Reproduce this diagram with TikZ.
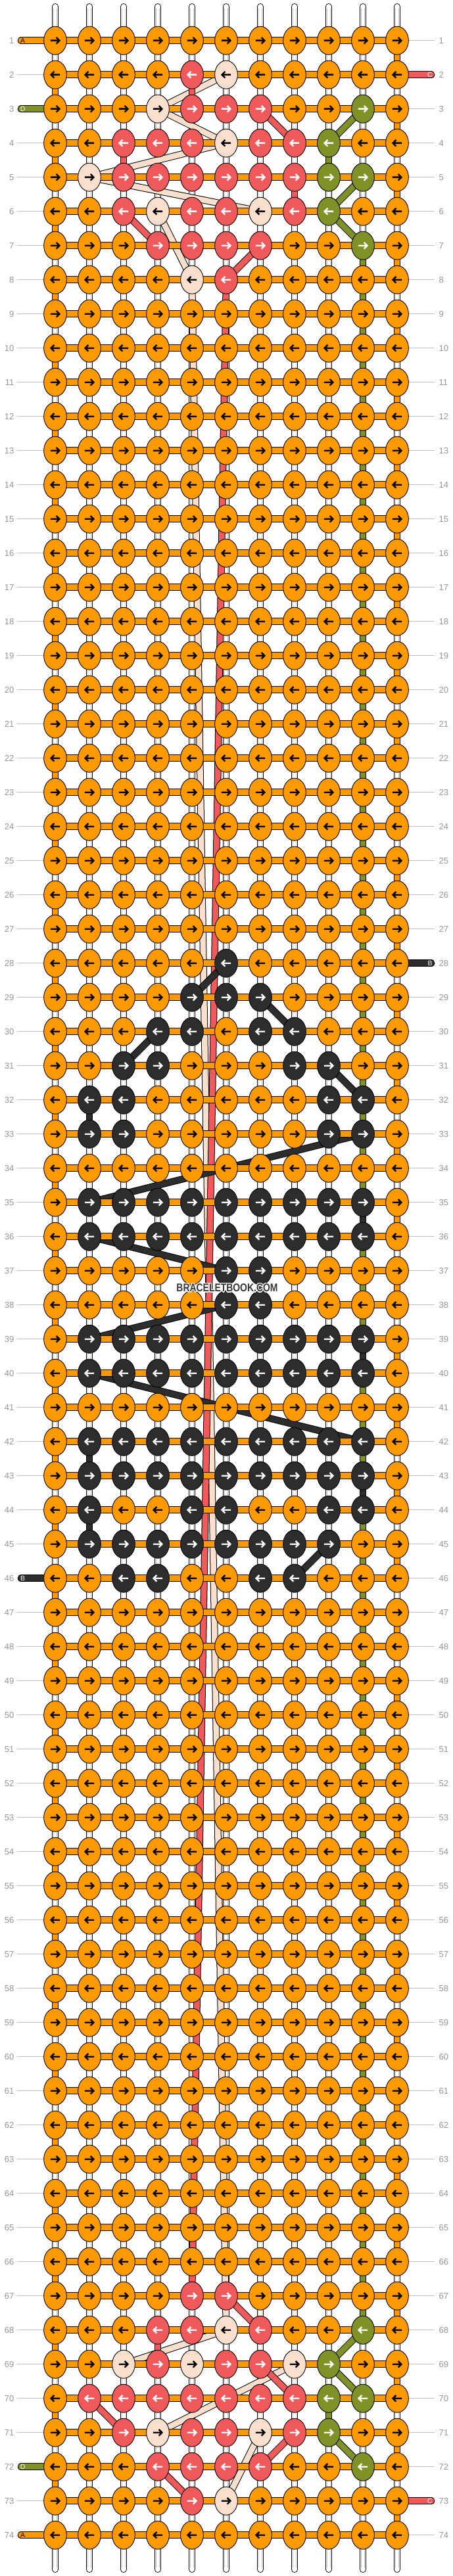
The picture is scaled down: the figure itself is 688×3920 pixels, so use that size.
\documentclass[tikz,border=0pt]{standalone}
\usepackage{fontspec}
\setmainfont{Liberation Sans}
\usetikzlibrary{shapes.geometric}
\definecolor{cO}{RGB}{255,153,0}
\definecolor{cR}{RGB}{240,90,90}
\definecolor{cE}{RGB}{250,224,204}
\definecolor{cG}{RGB}{128,145,40}
\definecolor{cK}{RGB}{45,45,45}
\definecolor{lblgray}{RGB}{150,150,150}
\definecolor{linegray}{RGB}{190,190,190}
\definecolor{wmgray}{RGB}{55,55,55}
\pgfdeclarelayer{bg}
\pgfdeclarelayer{warp}
\pgfdeclarelayer{strands}
\pgfdeclarelayer{bars}
\pgfsetlayers{bg,warp,strands,bars,main}
\newcommand\setknot[3]{\expandafter\xdef\csname knot@#1@#2\endcsname{#3}}
\def\cEname{cE}
\expandafter\def\csname lend@1\endcsname{x}
\expandafter\def\csname lend@3\endcsname{x}
\expandafter\def\csname lend@46\endcsname{x}
\expandafter\def\csname lend@72\endcsname{x}
\expandafter\def\csname lend@74\endcsname{x}
\expandafter\def\csname rend@2\endcsname{x}
\expandafter\def\csname rend@28\endcsname{x}
\expandafter\def\csname rend@73\endcsname{x}
\tikzset{
  knot/.style={ellipse, draw=black, line width=0.9pt, minimum width=34.7pt, minimum height=43pt, inner sep=0pt},
  arrowglyph/.style={line width=2.4pt, line cap=butt, line join=miter},
  strandedge/.style={draw=black, line width=10.6pt},
  strandcore/.style={line width=8.6pt},
  rowlbl/.style={text=lblgray, font=\fontsize{13}{15}\selectfont, inner sep=0pt},
  endlbl/.style={font=\fontsize{10.5}{12}\selectfont, inner sep=0pt},
  guide/.style={draw=linegray, line width=0.9pt},
  wmtext/.style={font=\bfseries\fontsize{17}{20}\selectfont, inner sep=0pt},
}
\newcommand\strandseg[5]{%
  \draw[strandedge] (n-#2-#3.center) -- (n-#4-#5.center);
  \draw[strandcore, draw=#1] (n-#2-#3.center) -- (n-#4-#5.center);}
\begin{document}
\begin{tikzpicture}[x=1pt,y=-1pt]
\begin{pgfonlayer}{bg}
\fill[white] (0,0) rectangle (688,3920);
\end{pgfonlayer}
\useasboundingbox (0,0) rectangle (688,3920);
% knot colours
\foreach \kr/\cols/\k in {
  2/{5}/cR, 3/{5,6,7}/cR, 4/{3,4,5,7,8}/cR, 5/{3,4,5,6,7,8}/cR, 6/{3,5,6,8}/cR, 7/{4,5,6,7}/cR, 8/{6}/cR,
  67/{5,6}/cR, 68/{4,5,7}/cR, 69/{4,6,7}/cR, 70/{2,3,4,5,6,7,8}/cR, 71/{3,5,6,8}/cR, 72/{4,5,6,7}/cR, 73/{5}/cR,
  2/{6}/cE, 3/{4}/cE, 4/{6}/cE, 5/{2}/cE, 6/{4,7}/cE, 8/{5}/cE, 68/{6}/cE, 69/{3,5,8}/cE, 71/{4,7}/cE, 73/{6}/cE,
  3/{10}/cG, 4/{9}/cG, 5/{9,10}/cG, 6/{9}/cG, 7/{10}/cG, 68/{10}/cG, 69/{9}/cG, 70/{9,10}/cG, 71/{9}/cG, 72/{10}/cG,
  28/{6}/cK, 29/{5,6,7}/cK, 30/{4,5,7,8}/cK, 31/{3,4,8,9}/cK, 32/{2,3,9,10}/cK, 33/{2,3,9,10}/cK,
  35/{2,...,10}/cK, 36/{2,...,10}/cK, 37/{6,7}/cK, 38/{6,7}/cK, 39/{2,...,10}/cK, 40/{2,...,10}/cK,
  42/{2,...,10}/cK, 43/{2,...,10}/cK, 44/{2,5,6,9,10}/cK, 45/{2,...,9}/cK, 46/{3,4,7,8}/cK}{
  \foreach \kcol in \cols {\setknot{\kr}{\kcol}{\k}}
}
% knots
\foreach \kr in {1,...,74}{
  \foreach \kcol in {1,...,11}{
    \pgfmathsetmacro\xx{84+52*(\kcol-1)}
    \pgfmathsetmacro\yy{61.7+52*(\kr-1)}
    \ifcsname knot@\kr @\kcol\endcsname
      \edef\kc{\csname knot@\kr @\kcol\endcsname}
      \ifx\kc\cEname \def\ac{black}\else\def\ac{white}\fi
    \else
      \def\kc{cO}\def\ac{black}
    \fi
    \node[knot, fill=\kc] (n-\kr-\kcol) at (\xx,\yy) {};
    \ifodd\kr\relax \def\dir{1}\else\def\dir{-1}\fi
    \draw[arrowglyph, draw=\ac, shift={(\xx,\yy)}, xscale=\dir] (-7.2,0) -- (6.2,0) (1.6,-4.8) -- (6.4,0) -- (1.6,4.8);
  }
}
% warps
\begin{pgfonlayer}{warp}
\foreach \kcol in {1,...,11}{
  \pgfmathsetmacro\xx{84+52*(\kcol-1)}
  \coordinate (wt-\kcol) at (\xx,10.4);
  \coordinate (wb-\kcol) at (\xx,3909.6);
  \draw[line width=10.7pt, line cap=round, black] (wt-\kcol) -- (wb-\kcol);
  \draw[line width=8.9pt, line cap=round, white] (wt-\kcol) -- (wb-\kcol);
  \draw[line width=0.7pt, gray!45] ([xshift=-2.4pt,yshift=-3pt]wt-\kcol) -- ([xshift=-2.4pt,yshift=3pt]wb-\kcol);
  \draw[line width=0.7pt, gray!45] ([xshift=2.4pt,yshift=-3pt]wt-\kcol) -- ([xshift=2.4pt,yshift=3pt]wb-\kcol);
}
\end{pgfonlayer}
% carried strings
\begin{pgfonlayer}{strands}
\foreach \k in {1,...,37}{
  \pgfmathtruncatemacro\ra{2*\k-1}\pgfmathtruncatemacro\rb{2*\k}
  \strandseg{cO}{\ra}{11}{\rb}{11}
}
\foreach \k in {1,...,36}{
  \pgfmathtruncatemacro\ra{2*\k}\pgfmathtruncatemacro\rb{2*\k+1}
  \strandseg{cO}{\ra}{1}{\rb}{1}
}
% beige
\strandseg{cE}{2}{6}{3}{4}
\strandseg{cE}{3}{4}{4}{6}
\strandseg{cE}{4}{6}{5}{2}
\strandseg{cE}{5}{2}{6}{7}
\strandseg{cE}{6}{4}{8}{5}
\strandseg{cE}{8}{5}{68}{6}
\strandseg{cE}{68}{6}{69}{3}
\strandseg{cE}{69}{8}{71}{4}
\strandseg{cE}{71}{7}{73}{6}
% red
\strandseg{cR}{2}{5}{3}{5}
\strandseg{cR}{3}{7}{4}{8}
\strandseg{cR}{4}{3}{5}{3}
\strandseg{cR}{5}{8}{6}{8}
\strandseg{cR}{6}{3}{7}{4}
\strandseg{cR}{7}{7}{8}{6}
\strandseg{cR}{8}{6}{67}{5}
\strandseg{cR}{67}{6}{68}{7}
\strandseg{cR}{68}{4}{69}{4}
\strandseg{cR}{69}{7}{70}{8}
\strandseg{cR}{70}{2}{71}{3}
\strandseg{cR}{71}{8}{72}{7}
\strandseg{cR}{72}{4}{73}{5}
% green
\strandseg{cG}{3}{10}{4}{9}
\strandseg{cG}{4}{9}{5}{9}
\strandseg{cG}{5}{10}{6}{9}
\strandseg{cG}{6}{9}{7}{10}
\strandseg{cG}{7}{10}{68}{10}
\strandseg{cG}{68}{10}{69}{9}
\strandseg{cG}{69}{9}{70}{10}
\strandseg{cG}{70}{9}{71}{9}
\strandseg{cG}{71}{9}{72}{10}
% black
\strandseg{cK}{28}{6}{29}{5}
\strandseg{cK}{29}{7}{30}{8}
\strandseg{cK}{30}{4}{31}{3}
\strandseg{cK}{31}{9}{32}{10}
\strandseg{cK}{32}{2}{33}{2}
\strandseg{cK}{33}{10}{35}{2}
\strandseg{cK}{35}{10}{36}{10}
\strandseg{cK}{36}{2}{37}{6}
\strandseg{cK}{37}{7}{38}{7}
\strandseg{cK}{38}{6}{39}{2}
\strandseg{cK}{39}{10}{40}{10}
\strandseg{cK}{40}{2}{42}{10}
\strandseg{cK}{42}{2}{43}{2}
\strandseg{cK}{43}{10}{44}{10}
\strandseg{cK}{44}{2}{45}{2}
\strandseg{cK}{45}{9}{46}{8}
\end{pgfonlayer}
% weft bars and string ends
\begin{pgfonlayer}{bars}
\foreach \kr in {1,...,74}{
  \draw[line width=11.4pt, black] (n-\kr-1.center) -- (n-\kr-11.center);
  \draw[line width=9.4pt, cO] (n-\kr-1.center) -- (n-\kr-11.center);
}
\foreach \kr/\ec in {1/cO,3/cG,46/cK,72/cG,74/cO}{
  \pgfmathsetmacro\yy{61.7+52*(\kr-1)}
  \coordinate (endL-\kr) at (32.4,\yy);
  \draw[line width=11.4pt, line cap=round, black] (endL-\kr) -- (n-\kr-1.center);
  \draw[line width=9.4pt, line cap=round, draw=\ec] (endL-\kr) -- (n-\kr-1.center);
}
\foreach \kr/\ec in {2/cR,28/cK,73/cR}{
  \pgfmathsetmacro\yy{61.7+52*(\kr-1)}
  \coordinate (endR-\kr) at (655.6,\yy);
  \draw[line width=11.4pt, line cap=round, black] (n-\kr-11.center) -- (endR-\kr);
  \draw[line width=9.4pt, line cap=round, draw=\ec] (n-\kr-11.center) -- (endR-\kr);
}
\end{pgfonlayer}
% end letters
\node[endlbl, text=black] (eA1) at (34.7,61.7) {A};
\node[endlbl, text=white] (eD3) at (34.7,165.7) {D};
\node[endlbl, text=white] (eB46) at (34.7,2401.7) {B};
\node[endlbl, text=white] (eD72) at (34.7,3753.7) {D};
\node[endlbl, text=black] (eA74) at (34.7,3857.7) {A};
\node[endlbl, text=white] (eC2) at (654,113.7) {C};
\node[endlbl, text=white] (eB28) at (654,1465.7) {B};
\node[endlbl, text=white] (eC73) at (654,3805.7) {C};
% row labels and guide lines
\foreach \kr in {1,...,74}{
  \pgfmathsetmacro\yy{61.7+52*(\kr-1)}
  \node[rowlbl, anchor=east] (ll-\kr) at (21.5,\yy) {\kr};
  \node[rowlbl, anchor=west] (rl-\kr) at (667.5,\yy) {\kr};
  \ifcsname lend@\kr\endcsname\else
    \coordinate (gl-\kr) at (26,\yy);
    \draw[guide] (gl-\kr) -- (n-\kr-1.west);
  \fi
  \ifcsname rend@\kr\endcsname\else
    \coordinate (gr-\kr) at (661,\yy);
    \draw[guide] (n-\kr-11.east) -- (gr-\kr);
  \fi
}
% watermark with light halo
\foreach \dx/\dy [count=\i] in {-1.2/0, 1.2/0, 0/-1.2, 0/1.2, -0.9/-0.9, 0.9/-0.9, -0.9/0.9, 0.9/0.9}{
  \node[wmtext, text=white] (wmh-\i) at (345.5+\dx,1960+\dy) {\scalebox{0.82}[1]{BRACELETBOOK.COM}};
}
\node[wmtext, text=wmgray] (wm) at (345.5,1960) {\scalebox{0.82}[1]{BRACELETBOOK.COM}};
\end{tikzpicture}
\end{document}
